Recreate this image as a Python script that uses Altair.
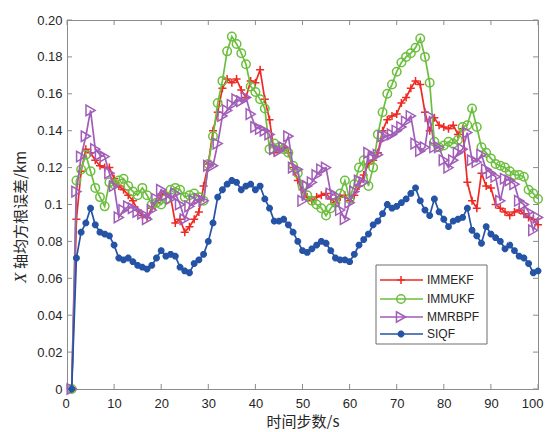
import altair as alt
import pandas as pd

steps = list(range(1, 101))

immekf = [0, 0.092, 0.118, 0.130, 0.128, 0.124, 0.121, 0.120, 0.120, 0.114,
          0.110, 0.108, 0.105, 0.102, 0.097, 0.094, 0.093, 0.098, 0.101, 0.105,
          0.106, 0.104, 0.090, 0.092, 0.085, 0.088, 0.092, 0.096, 0.110, 0.122,
          0.140, 0.150, 0.163, 0.168, 0.166, 0.168, 0.162, 0.158, 0.167, 0.166,
          0.173, 0.157, 0.146, 0.128, 0.130, 0.131, 0.128, 0.120, 0.113, 0.108,
          0.104, 0.102, 0.104, 0.105, 0.106, 0.103, 0.101, 0.104, 0.105, 0.102,
          0.105, 0.110, 0.116, 0.122, 0.124, 0.128, 0.140, 0.146, 0.148, 0.149,
          0.155, 0.158, 0.163, 0.167, 0.165, 0.150, 0.140, 0.147, 0.143, 0.142,
          0.141, 0.143, 0.138, 0.141, 0.112, 0.102, 0.098, 0.117, 0.110, 0.109,
          0.100, 0.098, 0.096, 0.094, 0.096, 0.097, 0.095, 0.093, 0.092, 0.089]

immukf = [0, 0.113, 0.119, 0.127, 0.118, 0.109, 0.104, 0.099, 0.112, 0.111,
          0.113, 0.114, 0.110, 0.107, 0.105, 0.109, 0.105, 0.100, 0.101, 0.100,
          0.103, 0.108, 0.109, 0.108, 0.104, 0.105, 0.106, 0.104, 0.102, 0.122,
          0.137, 0.155, 0.167, 0.183, 0.191, 0.187, 0.182, 0.176, 0.164, 0.161,
          0.157, 0.152, 0.130, 0.133, 0.131, 0.130, 0.128, 0.121, 0.117, 0.110,
          0.105, 0.102, 0.100, 0.098, 0.094, 0.098, 0.101, 0.106, 0.113, 0.103,
          0.111, 0.120, 0.124, 0.110, 0.120, 0.138, 0.150, 0.160, 0.165, 0.172,
          0.177, 0.180, 0.182, 0.185, 0.190, 0.180, 0.166, 0.134, 0.131, 0.132,
          0.134, 0.133, 0.135, 0.142, 0.143, 0.152, 0.142, 0.131, 0.128, 0.125,
          0.122, 0.121, 0.120, 0.118, 0.116, 0.116, 0.115, 0.108, 0.106, 0.103]

mmrbpf = [0, 0.107, 0.126, 0.137, 0.151, 0.130, 0.127, 0.126, 0.117, 0.110,
          0.093, 0.097, 0.099, 0.098, 0.096, 0.095, 0.092, 0.097, 0.103, 0.108,
          0.105, 0.103, 0.106, 0.100, 0.092, 0.099, 0.102, 0.103, 0.102, 0.121,
          0.121, 0.133, 0.148, 0.151, 0.154, 0.157, 0.156, 0.158, 0.149, 0.142,
          0.141, 0.140, 0.138, 0.130, 0.129, 0.131, 0.137, 0.120, 0.119, 0.102,
          0.110, 0.112, 0.116, 0.119, 0.120, 0.106, 0.105, 0.097, 0.092, 0.101,
          0.107, 0.113, 0.112, 0.128, 0.126, 0.127, 0.137, 0.137, 0.138, 0.140,
          0.142, 0.145, 0.148, 0.133, 0.129, 0.131, 0.148, 0.131, 0.131, 0.124,
          0.120, 0.124, 0.128, 0.130, 0.139, 0.124, 0.123, 0.127, 0.119, 0.117,
          0.115, 0.102, 0.114, 0.113, 0.111, 0.102, 0.100, 0.096, 0.086, 0.093]

siqf = [0, 0.071, 0.085, 0.090, 0.098, 0.089, 0.085, 0.084, 0.083, 0.078,
        0.071, 0.070, 0.071, 0.069, 0.067, 0.066, 0.065, 0.067, 0.071, 0.075,
        0.072, 0.073, 0.072, 0.066, 0.064, 0.063, 0.068, 0.070, 0.073, 0.080,
        0.090, 0.104, 0.108, 0.111, 0.113, 0.112, 0.108, 0.110, 0.111, 0.108,
        0.110, 0.103, 0.098, 0.091, 0.091, 0.092, 0.089, 0.085, 0.080, 0.075,
        0.074, 0.076, 0.078, 0.080, 0.079, 0.075, 0.071, 0.070, 0.070, 0.069,
        0.073, 0.078, 0.081, 0.084, 0.089, 0.091, 0.095, 0.100, 0.098, 0.099,
        0.101, 0.103, 0.106, 0.109, 0.102, 0.097, 0.094, 0.103, 0.096, 0.092,
        0.088, 0.091, 0.092, 0.093, 0.098, 0.086, 0.083, 0.079, 0.088, 0.084,
        0.082, 0.080, 0.076, 0.078, 0.075, 0.072, 0.071, 0.068, 0.063, 0.064]

names = ["IMMEKF", "IMMUKF", "MMRBPF", "SIQF"]
colors = ["#EE2A24", "#6CBF3E", "#A15DB8", "#2553A5"]
x_ticks = [0, 10, 20, 30, 40, 50, 60, 70, 80, 90, 100]
y_ticks = [0, 0.02, 0.04, 0.06, 0.08, 0.1, 0.12, 0.14, 0.16, 0.18, 0.2]

series_vals = [immekf, immukf, mmrbpf, siqf]
rows = []
for nm, vals in zip(names, series_vals):
    for s, v in zip(steps, vals):
        rows.append({"step": s, "value": v, "series": nm})
df = pd.DataFrame(rows)

W, H = 471, 369
GRAY = "#8c8c8c"
TXT = "#262626"

xs = alt.Scale(domain=[0, 100], nice=False, zero=False)
ys = alt.Scale(domain=[0, 0.2], nice=False)

xaxis = alt.Axis(values=x_ticks, ticks=False, grid=False, title="时间步数/s",
                 titleFont="Noto Sans CJK SC", titleFontSize=15, titleFontWeight="normal",
                 titleColor=TXT, titlePadding=4, labelFont="Liberation Sans", labelFontSize=13,
                 labelColor=TXT, labelPadding=8, labelFlush=True, labelFlushOffset=5,
                 labelOverlap=False, domainColor=GRAY)
yaxis = alt.Axis(values=y_ticks, ticks=False, grid=False, title="",
                 labelExpr="datum.value > 0.199 ? '0.20' : format(datum.value, '~g')",
                 labelFont="Liberation Sans", labelFontSize=13, labelColor=TXT,
                 labelPadding=5, labelFlush=False, labelOverlap=False, domainColor=GRAY)

X = alt.X("step:Q", scale=xs, axis=xaxis)
Y = alt.Y("value:Q", scale=ys, axis=yaxis)

PLUS = "M-1,0H1M0,-1V1"
STAR = "M-1,0H1M0,-1V1M-0.7,-0.7L0.7,0.7M-0.7,0.7L0.7,-0.7"
marker = {
    "IMMEKF": dict(shape=PLUS, size=64, filled=False, strokeWidth=1.5),
    "IMMUKF": dict(shape="circle", size=72, filled=False, strokeWidth=1.5),
    "MMRBPF": dict(shape="triangle-right", size=110, filled=False, strokeWidth=1.5),
    "SIQF": dict(shape=STAR, size=46, filled=False, strokeWidth=2.4),
}

layers = []

# inward ticks
dxt = pd.DataFrame({"step": x_ticks})
dyt = pd.DataFrame({"value": y_ticks})
layers.append(alt.Chart(dxt).mark_rule(color=GRAY).encode(x=X, y=alt.value(H), y2=alt.value(H - 5)))
layers.append(alt.Chart(dxt).mark_rule(color=GRAY).encode(x=X, y=alt.value(0), y2=alt.value(5)))
layers.append(alt.Chart(dyt).mark_rule(color=GRAY).encode(y=Y, x=alt.value(0), x2=alt.value(5)))
layers.append(alt.Chart(dyt).mark_rule(color=GRAY).encode(y=Y, x=alt.value(W - 5), x2=alt.value(W)))

for nm, col in zip(names, colors):
    base = alt.Chart(df).transform_filter(alt.datum.series == nm)
    layers.append(base.mark_line(color=col, strokeWidth=1.7).encode(x=X, y=Y))
    layers.append(base.mark_point(color=col, opacity=1, **marker[nm]).encode(x=X, y=Y))

# legend
layers.append(alt.Chart(pd.DataFrame({"a": [0]})).mark_rect(fill="white", stroke="#6e6e6e", strokeWidth=1).encode(
    x=alt.value(309), x2=alt.value(420), y=alt.value(245), y2=alt.value(324)))
leg_y = [260, 279, 297, 314]
for nm, col, ly in zip(names, colors, leg_y):
    d = pd.DataFrame({"series": [nm]})
    layers.append(alt.Chart(d).mark_rule(color=col, strokeWidth=1.7).encode(
        x=alt.value(313), x2=alt.value(356), y=alt.value(ly)))
    layers.append(alt.Chart(d).mark_point(color=col, opacity=1, **marker[nm]).encode(
        x=alt.value(334), y=alt.value(ly)))
    layers.append(alt.Chart(d).mark_text(align="left", baseline="middle", font="Liberation Sans",
                                         fontSize=12, color=TXT).encode(
        x=alt.value(360), y=alt.value(ly), text="series:N"))

# y title: italic X + Chinese text
layers.append(alt.Chart(pd.DataFrame({"t": ["X"]})).mark_text(
    angle=270, align="left", baseline="middle", font="Liberation Serif", fontStyle="italic",
    fontSize=17, color=TXT).encode(x=alt.value(-46), y=alt.value(263), text="t:N"))
layers.append(alt.Chart(pd.DataFrame({"t": ["轴均方根误差/km"]})).mark_text(
    angle=270, align="left", baseline="middle", font="Noto Sans CJK SC",
    fontSize=15, color=TXT).encode(x=alt.value(-46), y=alt.value(249), text="t:N"))

chart = alt.layer(*layers).properties(
    width=W, height=H,
    autosize=alt.AutoSizeParams(type="none"),
    padding={"left": 59, "top": 12, "right": 6, "bottom": 40},
    background="white",
).configure_view(stroke=GRAY, strokeWidth=1)

chart.save("out.html", embed_options={"renderer": "svg", "actions": False})
